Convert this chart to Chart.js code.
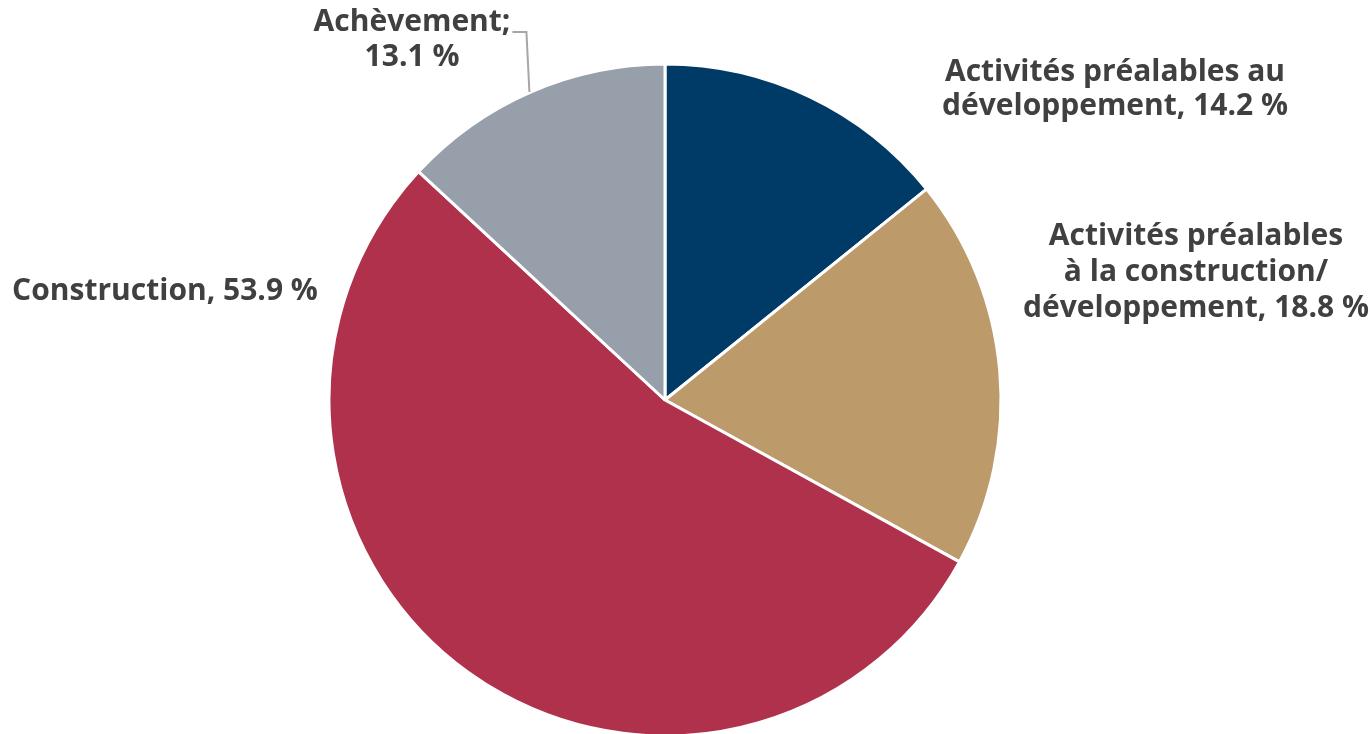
<!DOCTYPE html>
<html>
<head>
<meta charset="utf-8">
<script src="https://cdn.jsdelivr.net/npm/chart.js"></script>
<style>
  html, body { margin: 0; padding: 0; background: #fff; }
  #wrap { width: 1370px; height: 734px; }
</style>
</head>
<body>
<div id="wrap"><canvas id="myChart"></canvas></div>
<script>
var categories = [
  "Activités préalables au développement",
  "Activités préalables à la construction/développement",
  "Construction",
  "Achèvement"
];
var shares = [14.2, 18.8, 53.9, 13.1];
var sliceColors = ["#003a66", "#bc9a6a", "#b0314b", "#97a0aa"];

// label lines per slice (text shown next to the pie)
var labelLines = [
  ["Activités préalables au", "développement, 14.2 %"],
  ["Activités préalables", "à la construction/", "développement, 18.8 %"],
  ["Construction, 53.9 %"],
  ["Achèvement;", "13.1 %"]
];

// where each label block sits (center x, first line y, line height)
var labelPos = [
  { x: 1115, y: 72, lh: 34 },
  { x: 1196, y: 236, lh: 36 },
  { x: 165, y: 291, lh: 34 },
  { x: 412, y: 22, lh: 35 }
];

var labelPlugin = {
  id: "sliceLabels",
  afterDraw: function (chart) {
    var ctx = chart.ctx;
    ctx.save();
    ctx.font = "bold 30px 'Open Sans', 'DejaVu Sans', sans-serif";
    ctx.fillStyle = "#404040";
    ctx.textAlign = "center";
    ctx.textBaseline = "middle";
    labelLines.forEach(function (lines, i) {
      var p = labelPos[i];
      lines.forEach(function (t, j) {
        ctx.fillText(t, p.x, p.y + j * p.lh);
      });
    });
    // leader line for Achèvement
    var w = ctx.measureText(labelLines[3][0]).width;
    var sx = labelPos[3].x + w / 2 + 2;
    var sy = labelPos[3].y + 10;
    ctx.strokeStyle = "#a6a6a6";
    ctx.lineWidth = 2;
    ctx.beginPath();
    ctx.moveTo(sx, sy);
    ctx.lineTo(sx + 14, sy);
    ctx.lineTo(sx + 17, 92);
    ctx.stroke();
    ctx.restore();
  }
};

new Chart("myChart", {
  type: "pie",
  data: {
    labels: categories,
    datasets: [{
      data: shares,
      backgroundColor: sliceColors,
      borderColor: "#ffffff",
      borderWidth: 3
    }]
  },
  options: {
    responsive: true,
    maintainAspectRatio: false,
    animation: false,
    radius: 336,
    layout: { padding: { top: 66, bottom: 0, left: 0, right: 40 } },
    plugins: {
      legend: { display: false },
      tooltip: { enabled: false }
    }
  },
  plugins: [labelPlugin]
});
</script>
</body>
</html>
